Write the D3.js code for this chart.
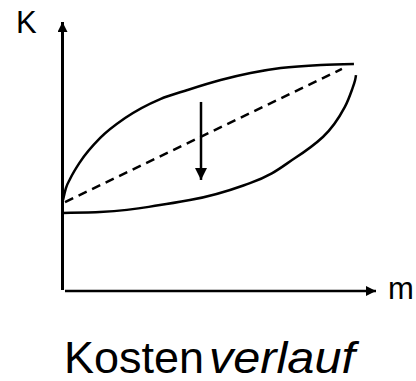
<!DOCTYPE html>
<html>
<head>
<meta charset="utf-8">
<script src="https://cdn.jsdelivr.net/npm/d3@7"></script>
<style>
  html, body { margin: 0; padding: 0; background: #fff; }
  svg { display: block; font-family: "Liberation Sans", Arial, sans-serif; }
</style>
</head>
<body>
<svg id="chart" width="416" height="381"></svg>
<script>
// Quantity m (0..100) and cost K (0..100)
const upperM = [0, 1.0, 2.4, 5.8, 12.7, 21.2, 33.2, 42.5, 53.8, 64.0, 74.3, 88.0, 99.3];
const upperK = [39.8, 45.1, 49.1, 56.6, 67.3, 76.1, 84.5, 88.5, 92.9, 96.0, 98.2, 99.6, 100];
const lowerM = [0, 12.6, 33.1, 43.3, 63.8, 79.2, 88.7, 96.2, 98.6, 99.7, 100];
const lowerK = [34.1, 34.5, 37.6, 39.8, 47.3, 58.4, 67.7, 81.0, 88.5, 92.9, 95.1];
const dashM = [0.7, 95.2];
const dashK = [38.9, 97.8];
const arrowM = [47.1, 47.1];
const arrowK = [83.2, 48.7];
const axisLabels = ["K", "m"];
const titleParts = ["Kosten", "verlauf"];

const svg = d3.select("#chart");
const x = d3.scaleLinear().domain([0, 100]).range([63, 356]);
const y = d3.scaleLinear().domain([0, 100]).range([290, 64]);

const defs = svg.append("defs");
defs.append("marker").attr("id", "ah").attr("viewBox", "0 0 10 10")
  .attr("refX", 10).attr("refY", 5).attr("markerWidth", 13).attr("markerHeight", 10)
  .attr("markerUnits", "userSpaceOnUse").attr("orient", "auto")
  .append("path").attr("d", "M0,0L10,5L0,10Z").attr("fill", "#000");
defs.append("marker").attr("id", "ah2").attr("viewBox", "0 0 10 10")
  .attr("refX", 10).attr("refY", 5).attr("markerWidth", 15).attr("markerHeight", 12)
  .attr("markerUnits", "userSpaceOnUse").attr("orient", "auto")
  .append("path").attr("d", "M0,0L10,5L0,10Z").attr("fill", "#000");

// axes
svg.append("line").attr("x1", x(0) - 0.5).attr("y1", y(0)).attr("x2", x(0) - 0.5).attr("y2", 22)
  .attr("stroke", "#000").attr("stroke-width", 3).attr("marker-end", "url(#ah)");
svg.append("line").attr("x1", x(0) + 2).attr("y1", y(0) + 1).attr("x2", 376).attr("y2", y(0) + 1)
  .attr("stroke", "#000").attr("stroke-width", 2.5).attr("marker-end", "url(#ah)");

const line = d3.line().x(d => x(d[0])).y(d => y(d[1])).curve(d3.curveMonotoneX);

svg.append("path").datum(d3.zip(upperM, upperK)).attr("d", line)
  .attr("fill", "none").attr("stroke", "#000").attr("stroke-width", 2.5);
svg.append("path").datum(d3.zip(lowerM, lowerK)).attr("d", d3.line().x(d => x(d[0])).y(d => y(d[1])).curve(d3.curveMonotoneY))
  .attr("fill", "none").attr("stroke", "#000").attr("stroke-width", 2.5);
svg.append("path").datum(d3.zip(dashM, dashK)).attr("d", d3.line().x(d => x(d[0])).y(d => y(d[1])))
  .attr("fill", "none").attr("stroke", "#000").attr("stroke-width", 2.5).attr("stroke-dasharray", "9,6");
svg.append("line").attr("x1", x(arrowM[0])).attr("y1", y(arrowK[0])).attr("x2", x(arrowM[1])).attr("y2", y(arrowK[1]))
  .attr("stroke", "#000").attr("stroke-width", 2.5).attr("marker-end", "url(#ah2)");

svg.append("text").attr("x", 16).attr("y", 33).attr("font-size", 31).text(axisLabels[0]);
svg.append("text").attr("x", 388).attr("y", 299).attr("font-size", 31).text(axisLabels[1]);

svg.append("text").attr("x", 64).attr("y", 373).attr("font-size", 44)
  .attr("textLength", 140).attr("lengthAdjust", "spacingAndGlyphs").text(titleParts[0]);
svg.append("text").attr("x", 209).attr("y", 373).attr("font-size", 44).attr("font-style", "italic")
  .attr("textLength", 146).attr("lengthAdjust", "spacingAndGlyphs").text(titleParts[1]);
</script>
</body>
</html>
